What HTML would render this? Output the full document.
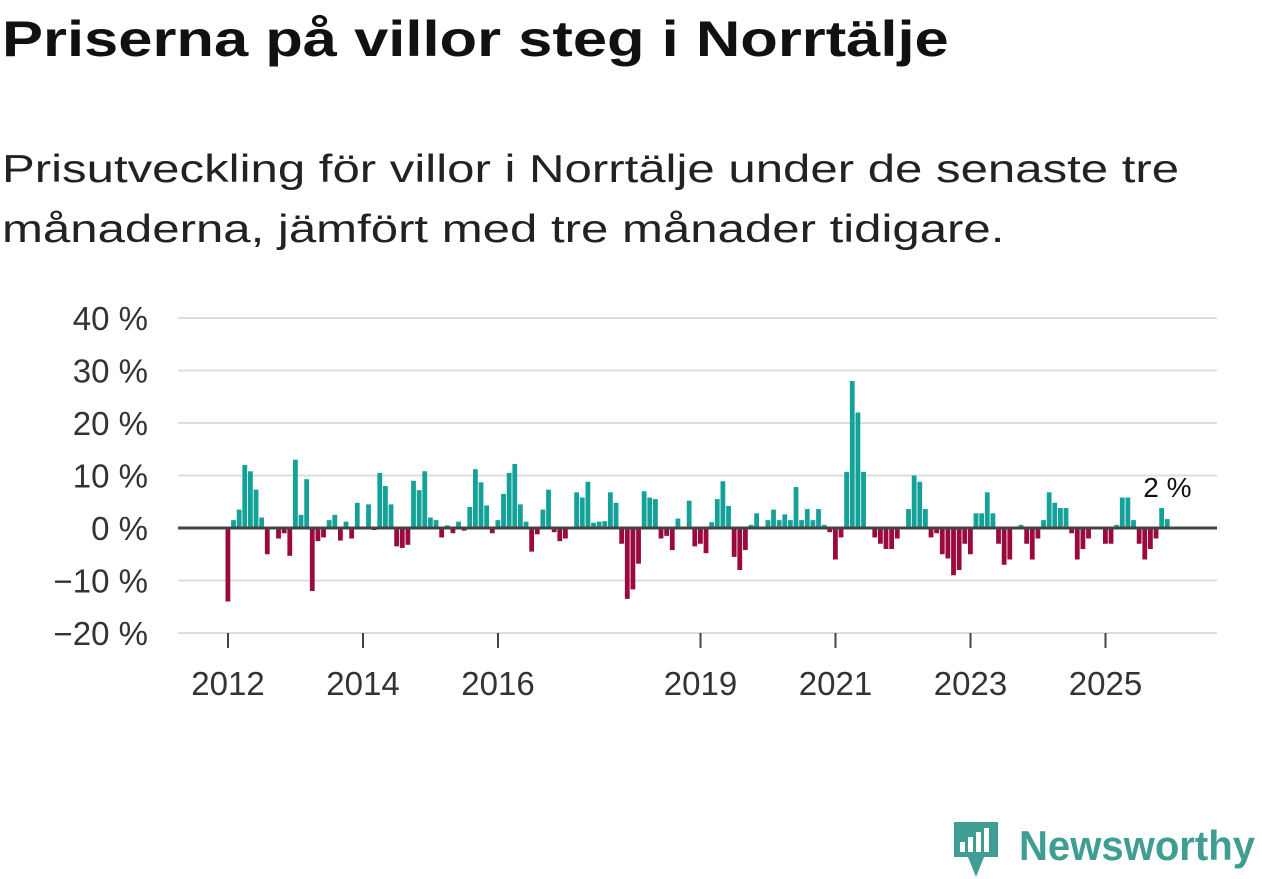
<!DOCTYPE html>
<html><head><meta charset="utf-8"><style>
body{margin:0;background:#fff;width:1262px;height:879px;overflow:hidden;font-family:"Liberation Sans",sans-serif;color:#111}
h1{position:absolute;left:2px;top:10px;margin:0;font-size:50px;font-weight:bold;white-space:nowrap;transform-origin:0 0;transform:scaleX(1.23)}
.sub{position:absolute;left:2px;top:140px;margin:0;font-size:39px;line-height:60px;color:#222;white-space:nowrap;transform-origin:0 0;transform:scaleX(1.26)}
svg{position:absolute;left:0;top:0}
</style></head><body>
<h1>Priserna på villor steg i Norrtälje</h1>
<p class="sub">Prisutveckling för villor i Norrtälje under de senaste tre<br>månaderna, jämfört med tre månader tidigare.</p>
<svg id="chart" width="1262" height="879"></svg>
<script>
const values=[-14,1.5,3.5,12,10.8,7.3,2,-5,0,-2,-1,-5.3,13,2.5,9.3,-12,-2.5,-1.8,1.5,2.5,-2.4,1.2,-2,4.8,0,4.5,-0.4,10.5,8,4.5,-3.5,-3.8,-3.2,9,7.2,10.8,2,1.5,-1.8,0.5,-1,1.2,-0.5,4,11.2,8.7,4.3,-1,1.5,6.5,10.5,12.2,4.5,1.2,-4.5,-1.2,3.5,7.3,-0.8,-2.5,-2,0,6.8,5.8,8.8,1,1.2,1.3,6.8,4.8,-3,-13.5,-11.7,-6.8,7,5.8,5.5,-2,-1.5,-4.2,1.8,0,5.2,-3.5,-3,-4.8,1.1,5.5,8.9,4.2,-5.5,-8,-4.2,0.6,2.8,0,1.5,3.5,1.5,2.6,1.5,7.8,1.5,3.6,1.5,3.6,0.6,-0.8,-6,-1.8,10.7,28,22,10.7,0,-1.8,-3,-4,-4,-2,0,3.6,10,8.8,3.6,-1.8,-1,-5,-5.8,-9,-8,-3,-5,2.8,2.8,6.8,2.8,-3,-7,-6,0,0.6,-3,-6,-2,1.5,6.8,4.8,3.8,3.8,-1,-6,-4,-2,0,0,-3,-3,0.6,5.8,5.8,1.5,-3,-6,-4,-2,3.8,1.7];
const startYear=2012;
const yTicks=[40,30,20,10,0,-10,-20];
const yTickLabels=["40 %","30 %","20 %","10 %","0 %","−10 %","−20 %"];
const xTickYears=[2012,2014,2016,2019,2021,2023,2025];
const lastLabel="2 %";
const NS="http://www.w3.org/2000/svg",svg=document.getElementById('chart');
const y=v=>528-v*5.25;
const x=i=>228+i*5.625;
const xYear=yr=>x((yr-startYear)*12);
function mk(t,a){const e=document.createElementNS(NS,t);for(const k in a)e.setAttribute(k,a[k]);svg.appendChild(e);return e;}
yTicks.forEach((t,k)=>{
 if(t!==0){const g=mk('line',{x1:178,x2:1217,y1:y(t),y2:y(t),stroke:'#ddd','stroke-width':2});
 
 }
 const l=mk('text',{x:148,y:y(t)+12,'text-anchor':'end','font-size':33,fill:'#333'});l.textContent=yTickLabels[k];
 
 
});
values.forEach((v,i)=>{
 const b=mk('rect',{x:x(i)-2.5,y:Math.min(y(v),528),width:4.8,height:Math.abs(y(v)-528),fill:v>=0?'#14a198':'#9a0a3f'});
 
 
});
const z=mk('line',{x1:178,x2:1217,y1:528,y2:528,stroke:'#444','stroke-width':3});


xTickYears.forEach(yr=>{
 const t=mk('line',{x1:xYear(yr),x2:xYear(yr),y1:633,y2:648,stroke:'#444','stroke-width':2});
 
 
 const l=mk('text',{x:xYear(yr),y:695,'text-anchor':'middle','font-size':33,fill:'#333'});l.textContent=yr;
 
 
});
const a=mk('text',{x:x(values.length-1),y:497,'text-anchor':'middle','font-size':28,fill:'#111'});a.textContent=lastLabel;


</script>
<svg width="1262" height="879">
<path d="M954 822 h44 v35 h-14 l-8 20 l-8-20 h-14z" fill="#3f9d92"/>
<rect x="960" y="842" width="5" height="10" fill="#fff"/><rect x="968" y="837" width="5" height="15" fill="#fff"/><rect x="976" y="832" width="5" height="20" fill="#fff"/><rect x="984" y="828" width="5" height="24" fill="#fff"/>
<text x="1019" y="860" font-size="42" font-weight="bold" fill="#3f9d92" font-family="Liberation Sans, sans-serif" textLength="236" lengthAdjust="spacingAndGlyphs">Newsworthy</text>
</svg>
</body></html>
